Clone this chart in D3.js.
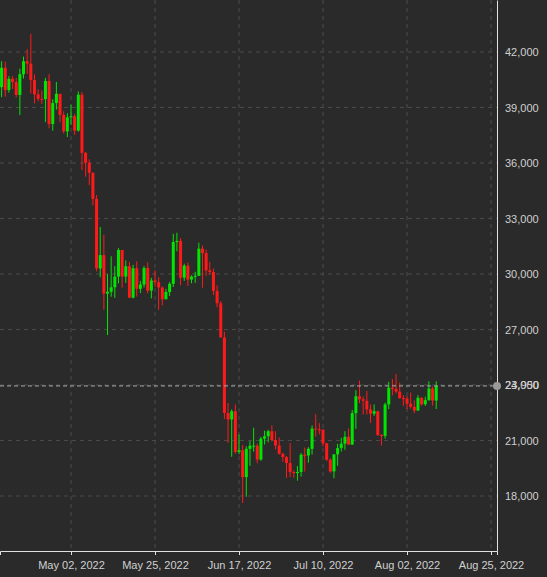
<!DOCTYPE html>
<html><head><meta charset="utf-8">
<script src="https://cdn.jsdelivr.net/npm/d3@7"></script>
<style>
  body { margin: 0; background: #2a2a2a; }
  svg { display: block; font-family: "Source Sans Pro", "Noto Sans", sans-serif; }
  .tick text { fill: #d0d0d0; font-size: 11px; }
</style></head>
<body><svg width="547" height="577"></svg>
<script>
const startDate = "2022-04-13";
const firstOpen = 40100;
const closes = [41150,39940,40550,40380,39680,40800,41500,41370,40480,39710,39470,39450,40430,38110,39240,39740,38600,37710,38470,38530,37750,39690,36550,36010,35470,34060,30300,31020,28940,29040,29280,29860,31300,29860,30420,28720,30310,29200,29430,30320,29100,29650,29560,29270,28630,29030,29470,31730,31790,29800,30450,29700,29860,29900,31370,31130,30200,30110,29090,28420,26570,22490,22140,22580,20380,20470,19020,20550,20720,20720,19970,21100,21230,21500,21030,20730,20280,20100,19780,19300,19240,19300,20230,20190,20550,21640,21600,21590,20850,19960,19330,20250,20590,20830,21200,20780,22480,23390,23230,23150,22680,22450,22580,21300,21250,22950,23850,23790,23640,23290,23270,22990,22820,22620,23310,22960,23180,23810,23160,23950];
const highs = [41500,41480,40700,40700,40600,41100,41750,42150,42980,40790,39990,39920,40600,40800,39450,40380,39370,38800,38690,39150,38640,39870,39840,36600,36200,35500,34270,32540,32120,30000,30960,30420,31400,31250,30740,30660,30500,30690,29630,30430,30630,29790,30190,29820,29330,29200,29570,32170,32230,31940,30560,30620,29930,30120,31690,31540,31320,30660,30300,29380,28530,26880,23030,22680,22950,21320,20760,20680,20960,21690,20830,21190,21530,21580,21820,21500,21170,20340,20160,20860,19380,19620,20330,20620,20640,21810,22420,21940,21580,20860,20040,20250,20820,21140,21500,21650,22650,23720,24240,23380,23680,22950,22950,22600,21340,23040,24170,24320,24600,24130,23460,23420,23590,23170,23450,23330,23360,24200,23910,24200];
const lows = [39560,39590,39800,40000,39550,38600,40560,40820,39750,39220,39340,39190,38220,37880,37750,38880,38200,37600,37400,38060,37520,37700,35610,35260,34800,33710,30140,29830,28070,26700,28770,28710,29500,29260,29520,28700,28680,28780,28970,29270,28960,28680,29310,28060,28310,28740,28810,29300,31230,29390,29630,29350,29500,29520,29900,29260,29900,29960,28860,28200,26640,22160,20880,20120,20290,20260,17620,17960,19630,20400,19770,19900,20780,20900,20950,20520,20240,19850,18980,19020,18980,18830,19050,19320,19800,20240,21210,21330,20690,19900,19260,18960,19630,20400,20500,20770,20770,21630,23020,22400,22400,21950,22330,21240,20720,21100,22700,23440,23550,23260,22870,22690,22720,22480,22610,22880,22870,23150,22880,22700];
const yTicks = [18000,21000,24000,27000,30000,33000,36000,39000,42000];
const xTickLabels = ["2022-05-02","2022-05-25","2022-06-17","2022-07-10","2022-08-02","2022-08-25"];
const lastPrice = 23950;

const svg = d3.select("svg");
const plotW = 497, plotH = 551;
const parse = d3.utcParse("%Y-%m-%d");
const day = 864e5;

const data = closes.map((c, i) => ({
  date: new Date(parse(startDate).getTime() + i * day),
  open: i === 0 ? firstOpen : closes[i - 1],
  high: highs[i], low: lows[i], close: c
}));

const x = d3.scaleUtc()
  .domain([new Date(parse("2022-06-17").getTime() - 65.44 * day), new Date(parse("2022-06-17").getTime() + 70.64 * day)])
  .range([0, plotW]);
const y = d3.scaleLinear().domain([15027, 44811]).range([plotH, 0]);

svg.append("rect").attr("width", 547).attr("height", 577).attr("fill", "#2a2a2a");

const grid = svg.append("g").attr("stroke", "#4a4a4a").attr("stroke-dasharray", "4,4");
grid.selectAll(".gy").data(yTicks).join("line")
  .attr("x1", 0).attr("x2", plotW).attr("y1", d => y(d)).attr("y2", d => y(d));
grid.selectAll(".gx").data(xTickLabels).join("line")
  .attr("x1", d => x(parse(d))).attr("x2", d => x(parse(d))).attr("y1", 0).attr("y2", plotH);

const candles = svg.append("g").selectAll("g").data(data).join("g")
  .attr("fill", d => d.close >= d.open ? "#00e600" : "#ff1a1a")
  .attr("stroke", d => d.close >= d.open ? "#00e600" : "#ff1a1a");
candles.append("line")
  .attr("x1", d => x(d.date)).attr("x2", d => x(d.date))
  .attr("y1", d => y(d.high)).attr("y2", d => y(d.low)).attr("stroke-width", 1);
candles.append("rect")
  .attr("x", d => x(d.date) - 1.5).attr("width", 3).attr("stroke", "none")
  .attr("y", d => y(Math.max(d.open, d.close)))
  .attr("height", d => Math.max(1, Math.abs(y(d.open) - y(d.close))));

// last price line
svg.append("line").attr("x1", 0).attr("x2", plotW)
  .attr("y1", y(lastPrice)).attr("y2", y(lastPrice))
  .attr("stroke", "#aaa").attr("stroke-dasharray", "4,3");

const yAxis = svg.append("g").attr("transform", `translate(${plotW},0)`)
  .call(d3.axisRight(y).tickValues(yTicks).tickSize(0).tickPadding(8).tickFormat(d3.format(",")));
yAxis.select(".domain").attr("stroke", "#e0e0e0");

svg.append("circle").attr("cx", plotW).attr("cy", y(lastPrice)).attr("r", 4).attr("fill", "#999");
svg.append("text").attr("x", plotW + 8).attr("y", y(lastPrice)).attr("dy", "0.32em")
  .attr("fill", "#d0d0d0").attr("font-size", 11).text(d3.format(",")(lastPrice));

const xAxis = svg.append("g").attr("transform", `translate(0,${plotH})`)
  .call(d3.axisBottom(x).tickValues(xTickLabels.map(parse)).tickSize(4).tickPadding(6)
    .tickFormat(d3.utcFormat("%b %d, %Y")));
xAxis.select(".domain").attr("stroke", "#e0e0e0");
xAxis.selectAll(".tick line").attr("stroke", "#e0e0e0");
</script></body></html>
